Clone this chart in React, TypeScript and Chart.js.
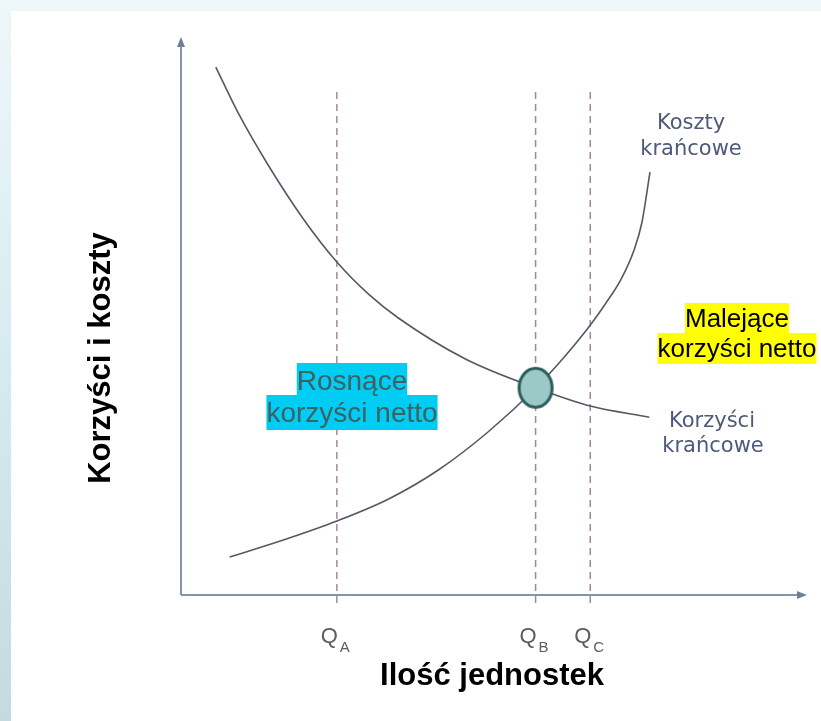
import React, { useEffect, useRef } from "react";
import { Chart, registerables } from "chart.js";

Chart.register(...registerables);

// Marginal benefit (decreasing) curve: quantity -> value
const benefitX = [5.6, 9.4, 14.2, 19.5, 25.1, 30.2, 35.0, 45.8, 57.1, 65.9, 75.4];
const benefitY = [95.3, 86.6, 77.3, 68.2, 60.1, 54.3, 50.0, 42.6, 37.4, 34.1, 32.1];

// Marginal cost (increasing) curve
const costX = [7.84, 16.48, 25.12, 33.44, 41.44, 49.44, 57.12, 61.44, 65.92, 68.32, 70.72, 72.96, 74.24, 75.52];
const costY = [6.86, 9.93, 13.36, 17.33, 22.56, 29.42, 37.36, 42.6, 48.74, 52.53, 56.68, 62.27, 67.33, 76.35];

// Quantities marked on the x axis
const qNames = ["A", "B", "C"];
const qValues = [25.1, 57.1, 65.9];
const qLineTop = 90.8;
const qLineBottom = -2.3;

// Equilibrium point
const eqX = 57.1;
const eqY = 37.4;

const xTitle = "Ilość jednostek";
const yTitle = "Korzyści i koszty";

function makeEllipse(): HTMLCanvasElement {
  const c = document.createElement("canvas");
  c.width = 40;
  c.height = 46;
  const ctx = c.getContext("2d")!;
  ctx.beginPath();
  ctx.ellipse(20, 23, 16.5, 19.5, 0, 0, Math.PI * 2);
  ctx.fillStyle = "#9cc9c8";
  ctx.fill();
  ctx.lineWidth = 3;
  ctx.strokeStyle = "#2b5e5b";
  ctx.stroke();
  return c;
}

const overlayPlugin = {
  id: "overlay",
  beforeDatasetsDraw(chart: any) {
    const ctx = chart.ctx as CanvasRenderingContext2D;
    const xs = chart.scales.x;
    const ys = chart.scales.y;
    const x0 = xs.getPixelForValue(0);
    const y0 = ys.getPixelForValue(0);
    const xEnd = xs.getPixelForValue(100);
    const yEnd = ys.getPixelForValue(100);
    ctx.save();
    ctx.strokeStyle = "#8593ab";
    ctx.fillStyle = "#6f7f99";
    ctx.lineWidth = 2;
    ctx.beginPath();
    ctx.moveTo(x0, y0);
    ctx.lineTo(xEnd, y0);
    ctx.moveTo(x0, y0);
    ctx.lineTo(x0, yEnd);
    ctx.stroke();
    // arrowheads
    ctx.beginPath();
    ctx.moveTo(x0, yEnd - 4);
    ctx.lineTo(x0 - 4, yEnd + 6);
    ctx.lineTo(x0 + 4, yEnd + 6);
    ctx.closePath();
    ctx.fill();
    ctx.beginPath();
    ctx.moveTo(xEnd + 5, y0);
    ctx.lineTo(xEnd - 5, y0 - 4);
    ctx.lineTo(xEnd - 5, y0 + 4);
    ctx.closePath();
    ctx.fill();
    ctx.restore();
  },
  afterDatasetsDraw(chart: any) {
    const ctx = chart.ctx as CanvasRenderingContext2D;
    const xs = chart.scales.x;
    const ys = chart.scales.y;
    const y0 = ys.getPixelForValue(0);
    ctx.save();

    // Q tick labels with subscripts
    ctx.fillStyle = "#5c5c5c";
    ctx.textBaseline = "alphabetic";
    qValues.forEach((q, i) => {
      const px = xs.getPixelForValue(q);
      ctx.font = "22px 'Liberation Sans', Arial, sans-serif";
      ctx.textAlign = "right";
      ctx.fillText("Q", px + 1, y0 + 48);
      ctx.font = "15px 'Liberation Sans', Arial, sans-serif";
      ctx.textAlign = "left";
      ctx.fillText(qNames[i], px + 3, y0 + 57);
    });

    // Axis titles
    ctx.fillStyle = "#000000";
    ctx.font = "bold 31px 'Liberation Sans', Arial, sans-serif";
    ctx.textAlign = "center";
    ctx.fillText(xTitle, 492, 685);
    ctx.save();
    ctx.translate(110, 358);
    ctx.rotate(-Math.PI / 2);
    ctx.fillText(yTitle, 0, 0);
    ctx.restore();

    // Curve labels
    ctx.fillStyle = "#4d5a7a";
    ctx.font = "21px 'DejaVu Sans', sans-serif";
    ctx.textAlign = "center";
    ctx.fillText("Koszty", 691, 129);
    ctx.fillText("krańcowe", 691, 155);
    ctx.fillText("Korzyści", 712, 427);
    ctx.fillText("krańcowe", 713, 452);

    // Highlighted region labels
    const highlight = (
      lines: string[],
      cx: number,
      baselines: number[],
      font: string,
      bg: string,
      fg: string,
      asc: number,
      desc: number
    ) => {
      ctx.font = font;
      ctx.textAlign = "center";
      lines.forEach((t, i) => {
        const w = ctx.measureText(t).width;
        ctx.fillStyle = bg;
        ctx.fillRect(cx - w / 2, baselines[i] - asc, w, asc + desc);
      });
      ctx.fillStyle = fg;
      lines.forEach((t, i) => ctx.fillText(t, cx, baselines[i]));
    };
    highlight(
      ["Rosnące", "korzyści netto"],
      352,
      [390, 422],
      "28px 'Liberation Sans', Arial, sans-serif",
      "#00ccf4",
      "#3d6262",
      27,
      8
    );
    highlight(
      ["Malejące", "korzyści netto"],
      737,
      [327, 357],
      "26px 'Liberation Sans', Arial, sans-serif",
      "#ffff00",
      "#000000",
      24,
      7
    );
    ctx.restore();
  },
};

export default function App() {
  const ref = useRef<HTMLCanvasElement | null>(null);
  useEffect(() => {
    if (!ref.current) return;
    const dashed = qValues.map((q, i) => ({
      label: "Q" + qNames[i],
      data: [
        { x: q, y: qLineTop },
        { x: q, y: qLineBottom },
      ],
      borderColor: "rgba(140,105,132,0.8)",
      borderWidth: 1.5,
      borderDash: [7, 5],
      pointRadius: 0,
      clip: false as any,
      order: 3,
    }));
    const chart = new Chart(ref.current, {
      type: "line",
      data: {
        datasets: [
          {
            label: "Równowaga",
            data: [{ x: eqX, y: eqY }],
            showLine: false,
            pointStyle: makeEllipse() as any,
            pointRadius: 18,
            clip: false as any,
            order: 0,
          },
          {
            label: "Korzyści krańcowe",
            data: benefitX.map((x, i) => ({ x, y: benefitY[i] })),
            borderColor: "#555866",
            borderWidth: 1.6,
            pointRadius: 0,
            cubicInterpolationMode: "monotone",
            order: 1,
          },
          {
            label: "Koszty krańcowe",
            data: costX.map((x, i) => ({ x, y: costY[i] })),
            borderColor: "#555866",
            borderWidth: 1.6,
            pointRadius: 0,
            cubicInterpolationMode: "monotone",
            order: 1,
          },
          ...dashed,
        ] as any,
      },
      options: {
        animation: false,
        responsive: false,
        events: [],
        layout: { padding: { left: 181, right: 15, top: 41, bottom: 126 } },
        plugins: { legend: { display: false }, tooltip: { enabled: false } },
        scales: {
          x: { type: "linear", min: 0, max: 100, display: false },
          y: { type: "linear", min: 0, max: 100, display: false },
        },
      },
      plugins: [overlayPlugin],
    });
    return () => chart.destroy();
  }, []);

  return (
    <div
      style={{
        position: "absolute",
        left: 0,
        top: 0,
        width: 821,
        height: 721,
        overflow: "hidden",
        background: "linear-gradient(to bottom, #eef7fa 0%, #d6ebf0 50%, #c4dadf 100%)",
      }}
    >
      <div
        style={{
          position: "absolute",
          left: 11,
          top: 11,
          right: 0,
          bottom: 0,
          background: "#ffffff",
        }}
      />
      <canvas
        ref={ref}
        width={821}
        height={721}
        style={{ position: "absolute", left: 0, top: 0, width: 821, height: 721 }}
      />
    </div>
  );
}
